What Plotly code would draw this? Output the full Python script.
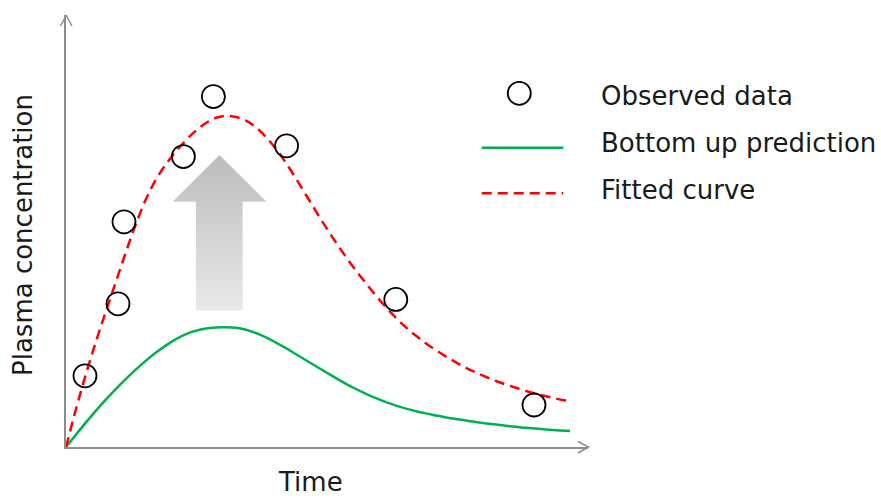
import plotly.graph_objects as go

# ---------------- data ----------------
obs_time = [0.95, 2.6, 2.9, 5.87, 7.37, 11.03, 16.49, 23.4]
obs_conc = [17.8, 35.8, 56.3, 72.6, 87.6, 75.3, 36.9, 10.5]

fit_time = [0, 0.5, 1, 1.5, 2, 2.5, 3, 3.5, 4, 4.5, 5, 5.5, 6, 6.5, 7, 7.5, 8, 8.5,
            9, 9.5, 10, 10.5, 11, 11.5, 12, 12.5, 13, 13.5, 14, 14.5, 15, 15.5, 16,
            16.5, 17, 17.5, 18, 18.5, 19, 19.5, 20, 20.5, 21, 21.5, 22, 22.5, 23,
            23.5, 24, 24.5, 25, 25.1]
fit_conc = [0, 9.5, 18.3, 26.4, 34.0, 41.4, 48.8, 55.8, 62.0, 66.9, 70.7, 73.9, 76.7,
            79.1, 81.0, 82.3, 82.8, 82.5, 81.6, 79.9, 77.5, 74.5, 71.0, 67.1, 63.0,
            58.9, 54.9, 51.1, 47.5, 44.1, 40.9, 37.8, 34.9, 32.3, 29.9, 27.8, 25.9,
            24.2, 22.6, 21.15, 19.8, 18.6, 17.5, 16.5, 15.6, 14.8, 14.0, 13.3, 12.7,
            12.1, 11.6, 11.5]

pred_time = [0, 0.5, 1, 1.5, 2, 2.5, 3, 3.5, 4, 4.5, 5, 5.5, 6, 6.5, 7, 7.5, 8, 8.5,
             9, 9.5, 10, 10.5, 11, 11.5, 12, 12.5, 13, 13.5, 14, 14.5, 15, 15.5, 16,
             16.5, 17, 17.5, 18, 18.5, 19, 19.5, 20, 20.5, 21, 21.5, 22, 22.5, 23,
             23.5, 24, 24.5, 25, 25.2]
pred_conc = [0, 3.1, 6.15, 9.1, 11.9, 14.55, 17.05, 19.4, 21.6, 23.6, 25.4, 26.95,
             28.2, 29.1, 29.65, 29.9, 29.95, 29.8, 29.3, 28.5, 27.4, 26.1, 24.7, 23.2,
             21.7, 20.2, 18.7, 17.2, 15.8, 14.5, 13.3, 12.2, 11.2, 10.35, 9.6, 8.95,
             8.4, 7.9, 7.4, 7.0, 6.6, 6.25, 5.9, 5.6, 5.3, 5.05, 4.8, 4.6, 4.4, 4.2,
             4.05, 4.0]

legend_labels = ["Observed data", "Bottom up prediction", "Fitted curve"]
x_title = "Time"
y_title = "Plasma concentration"

# ---------------- layout constants ----------------
W, H = 881, 498
ML, MR, MT, MB = 66, 293, 15, 51
PW, PH = W - ML - MR, H - MT - MB
X_MAX, Y_MAX = 26.1, 108

FONT = "DejaVu Sans"
FSIZE = 26
TXT = "#1a1a1a"
AXC = "#8c8c8c"
RED = "#ff0000"
GREEN = "#00b050"


def px(xp):
    return (xp - ML) / PW


def py(yp):
    return (H - MB - yp) / PH


fig = go.Figure()

# gradient arrow (decoration, in data units)
arrow_x = [7.67, 10.03, 8.83, 8.83, 6.5, 6.5, 5.33, 7.67]
arrow_y = [73.0, 61.3, 61.3, 34.1, 34.1, 61.3, 61.3, 73.0]
fig.add_trace(go.Scatter(
    x=arrow_x, y=arrow_y, mode="lines", fill="toself",
    line=dict(width=0, color="rgba(0,0,0,0)"),
    fillgradient=dict(type="vertical",
                      colorscale=[[0, "#e9e9e9"], [1, "#bcbcbc"]]),
    hoverinfo="skip", showlegend=False))

fig.add_trace(go.Scatter(
    x=pred_time, y=pred_conc, mode="lines", line_shape="spline",
    line=dict(color=GREEN, width=2.5), showlegend=False, name=legend_labels[1]))

fig.add_trace(go.Scatter(
    x=fit_time, y=fit_conc, mode="lines", line_shape="spline",
    line=dict(color=RED, width=2.5, dash="10px,6px"), showlegend=False,
    name=legend_labels[2]))

fig.add_trace(go.Scatter(
    x=obs_time, y=obs_conc, mode="markers",
    marker=dict(symbol="circle-open", size=23, color="black",
                line=dict(width=1.8, color="black")),
    showlegend=False, name=legend_labels[0], cliponaxis=False))

shapes = []
# axis arrowheads (open chevrons)
shapes.append(dict(type="path", xref="paper", yref="paper",
                   path=f"M {px(60.5)},{py(26)} L {px(66.2)},{py(15.5)} L {px(72)},{py(26)}",
                   line=dict(color=AXC, width=1.5)))
shapes.append(dict(type="path", xref="paper", yref="paper",
                   path=f"M {px(578)},{py(441.5)} L {px(588.5)},{py(447)} L {px(578)},{py(453)}",
                   line=dict(color=AXC, width=1.5)))

# legend symbols
r = 11.5
shapes.append(dict(type="circle", xref="paper", yref="paper",
                   x0=px(519.3 - r), x1=px(519.3 + r), y0=py(93.3 + r), y1=py(93.3 - r),
                   line=dict(color="black", width=1.8)))
shapes.append(dict(type="line", xref="paper", yref="paper",
                   x0=px(481.7), x1=px(563.3), y0=py(147.7), y1=py(147.7),
                   line=dict(color=GREEN, width=2.5)))
shapes.append(dict(type="line", xref="paper", yref="paper",
                   x0=px(481.7), x1=px(563.3), y0=py(193.3), y1=py(193.3),
                   line=dict(color=RED, width=2.5, dash="10px,6px")))

annotations = []
for label, yc in zip(legend_labels, [96.0, 143.0, 189.5]):
    annotations.append(dict(text=label, xref="paper", yref="paper",
                            x=px(599), y=py(yc), xanchor="left", yanchor="middle",
                            showarrow=False, font=dict(family=FONT, size=FSIZE, color=TXT)))
annotations.append(dict(text=x_title, xref="paper", yref="paper",
                        x=px(310), y=py(498), xanchor="center", yanchor="bottom",
                        showarrow=False, borderpad=0,
                        font=dict(family=FONT, size=FSIZE, color=TXT)))
annotations.append(dict(text=y_title, xref="paper", yref="paper",
                        x=px(23), y=py(235), xanchor="center", yanchor="middle",
                        textangle=-90, showarrow=False,
                        font=dict(family=FONT, size=FSIZE, color=TXT)))

fig.update_layout(
    width=W, height=H,
    margin=dict(l=ML, r=MR, t=MT, b=MB, pad=0),
    paper_bgcolor="white", plot_bgcolor="white",
    shapes=shapes, annotations=annotations,
    xaxis=dict(range=[0, X_MAX], showgrid=False, zeroline=False, showticklabels=False,
               ticks="", showline=True, linecolor=AXC, linewidth=1.5),
    yaxis=dict(range=[0, Y_MAX], showgrid=False, zeroline=False, showticklabels=False,
               ticks="", showline=True, linecolor=AXC, linewidth=1.5),
    showlegend=False,
)

fig.write_html("out.html", config={"displayModeBar": False},
               post_script="document.body.style.margin='0';document.body.style.overflow='hidden';")
